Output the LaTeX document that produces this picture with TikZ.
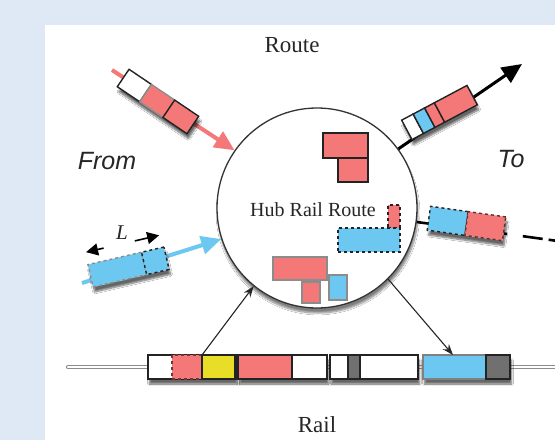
\documentclass[tikz,border=0pt]{standalone}
\usepackage{fontspec}
\setmainfont{Liberation Serif}
\newfontfamily\sansit{Liberation Sans}
\usetikzlibrary{arrows.meta,shadows,shadows.blur,calc}
\definecolor{bgblue}{RGB}{222,233,245}
\definecolor{tpink}{RGB}{245,120,120}
\definecolor{tblue}{RGB}{108,200,240}
\definecolor{tyellow}{RGB}{232,222,40}
\definecolor{tgray}{RGB}{112,112,112}
\definecolor{edge}{RGB}{35,35,35}
\tikzset{
  car/.style={draw=edge, line width=1.4pt, inner sep=0pt, outer sep=0pt},
  shad/.style={inner sep=0pt, outer sep=0pt, fill=white,
    blur shadow={shadow xshift=1.5pt, shadow yshift=-5pt, shadow blur steps=7, shadow opacity=60}},
  pinkarrow/.style={draw=tpink, line width=4pt, -{Triangle[length=20pt,width=18pt]}},
  bluearrow/.style={draw=tblue, line width=4pt, -{Triangle[length=20pt,width=18pt]}},
  blackarrow/.style={draw=black, line width=3pt, -{Triangle[length=20pt,width=18pt]}},
  thinarrow/.style={draw=black!85, line width=1.1pt, -{Stealth[length=11pt,width=8pt]}},
  larrow/.style={draw=black, line width=1.6pt, -{Triangle[length=12pt,width=12pt]}},
  txt/.style={inner sep=0pt, text=black!85}
}
\begin{document}
\begin{tikzpicture}[x=1pt,y=-1pt]
\useasboundingbox (0,0) rectangle (555,440);
\fill[bgblue] (0,0) rectangle (555,440);
\fill[white] (45,25) rectangle (555,440);

% hub
\node[circle, draw=black!80, line width=1.3pt, fill=white, minimum size=200, inner sep=0pt,
  blur shadow={shadow xshift=1pt, shadow yshift=-5pt, shadow blur steps=8, shadow opacity=50}] (hub) at (317,208) {};
\node[txt, font=\fontsize{20}{23}\selectfont] (hubtext) at (313,210) {Hub Rail Route};

% shapes inside hub
\node[car, fill=tpink, minimum width=45, minimum height=25] (h1) at (345.5,145.5) {};
\node[car, fill=tpink, minimum width=30, minimum height=24] (h2) at (353,170) {};
\node[car, dashed, fill=tpink, minimum width=12, minimum height=23] (h3) at (394,216.5) {};
\node[car, dashed, fill=tblue, minimum width=62, minimum height=24] (h4) at (369,240) {};
\node[car, fill=tpink, draw=black!45, line width=1.8pt, minimum width=54, minimum height=23] (h5) at (300,268.5) {};
\node[car, fill=tpink, draw=black!45, line width=1.8pt, minimum width=18, minimum height=21] (h6) at (311,292.5) {};
\node[car, fill=tblue, draw=black!45, line width=1.8pt, minimum width=18, minimum height=25] (h7) at (338,287.5) {};

% rail
\coordinate (railL) at (68,367);
\coordinate (railR) at (562,367);
\draw[line width=4.2pt, black!45, line cap=round] (railL) -- (railR);
\draw[line width=2.2pt, white, line cap=round] (railL) -- (railR);

\node[car, shad, fill=white, minimum width=88, minimum height=24] (car1) at (192,367) {};
\node[car, fill=tpink, dashed, draw=tpink!45!black, minimum width=30, minimum height=24] (c1p) at (187,367) {};
\node[car, fill=tyellow, minimum width=33, minimum height=24] (c1y) at (218.5,367) {};
\node[car, shad, fill=white, minimum width=89, minimum height=24] (car2) at (282.5,367) {};
\node[car, fill=tpink, minimum width=54, minimum height=24] (c2p) at (265,367) {};
\node[car, shad, fill=white, minimum width=88, minimum height=24] (car3) at (374,367) {};
\node[car, fill=tgray, minimum width=12, minimum height=24] (c3g) at (354,367) {};
\node[car, shad, fill=white, minimum width=87, minimum height=24] (car4) at (466.5,367) {};
\node[car, fill=tblue, draw=black!50, minimum width=63, minimum height=24] (c4b) at (454.5,367) {};
\node[car, fill=tgray, minimum width=24, minimum height=24] (c4g) at (498,367) {};

\draw[thinarrow] (c1p.north east) -- (hub.231);
\draw[thinarrow] (hub.-45) -- ($(car4.north west)+(30,0)$);

% incoming pink train
\coordinate (pstart) at (112,70);
\draw[pinkarrow] (pstart) -- (hub.145);
\begin{scope}[shift={(158,101.5)}, rotate=-34, transform shape]
\node[shad, minimum width=84, minimum height=21] (pshadow) at (0,0) {};
\node[car, fill=white, minimum width=27, minimum height=21, anchor=west] (pw) at (-42,0) {};
\node[car, fill=tpink, draw=black!45, minimum width=28, minimum height=21, anchor=west] (pm) at (-15,0) {};
\node[car, fill=tpink, minimum width=29, minimum height=21, anchor=west] (pf) at (13,0) {};
\end{scope}

% incoming blue train
\coordinate (bstart) at (82,283);
\draw[bluearrow] (bstart) -- (hub.198);
\begin{scope}[shift={(128.5,267)}, rotate=13, transform shape]
\node[shad, minimum width=78, minimum height=23] (bshadow) at (0,0) {};
\node[car, fill=tblue, draw=black!45, dashed, minimum width=55, minimum height=23, anchor=west] (lb) at (-39,0) {};
\node[car, fill=tblue, dashed, minimum width=23, minimum height=23, anchor=west] (ls) at (16,0) {};
\coordinate (la) at (-20,-24);
\coordinate (lat) at (-38,-24);
\coordinate (lb0) at (12,-24);
\coordinate (lbt) at (37,-24);
\draw[larrow] (la) -- (lat);
\draw[larrow] (lb0) -- (lbt);
\end{scope}
\node[txt, font=\itshape\fontsize{21}{24}\selectfont] (L) at (122,233) {L};

% outgoing train (top right)
\coordinate (totip) at (522,64);
\draw[blackarrow] (hub.36) -- (totip);
\begin{scope}[shift={(439.5,112.5)}, rotate=28, transform shape]
\node[shad, minimum width=74, minimum height=22] (tshadow) at (0,0) {};
\node[car, fill=white, minimum width=13, minimum height=22, anchor=west] (tw) at (-37,0) {};
\node[car, fill=tblue, minimum width=13, minimum height=22, anchor=west] (tb) at (-24,0) {};
\node[car, fill=tpink, minimum width=11, minimum height=22, anchor=west] (tps) at (-11,0) {};
\node[car, fill=tpink, minimum width=37, minimum height=22, anchor=west] (tpb) at (0,0) {};
\end{scope}

% outgoing dashed train (right)
\coordinate (r1) at (507,234);
\coordinate (r2) at (565,242);
\draw[line width=2.6pt] (hub.-8) -- (r1);
\draw[line width=2.6pt, dash pattern=on 0pt off 16pt on 20pt off 6pt on 20pt off 100pt] (r1) -- (r2);
\begin{scope}[shift={(466.5,223.5)}, rotate=-8, transform shape]
\node[shad, minimum width=76, minimum height=24] (rshadow) at (0,0) {};
\node[car, dashed, fill=tblue, minimum width=38, minimum height=24, anchor=west] (rb) at (-38,0) {};
\node[car, dashed, draw=tpink!40!black, fill=tpink, minimum width=38, minimum height=24, anchor=west] (rp) at (0,0) {};
\end{scope}

% labels
\node[txt, font=\fontsize{23}{26}\selectfont] (route) at (292,45) {Route};
\node[txt, font=\fontsize{23}{26}\selectfont] (rail) at (317,425) {Rail};
\node[txt, font=\sansit\itshape\fontsize{25}{29}\selectfont] (from) at (107,161) {From};
\node[txt, font=\sansit\itshape\fontsize{25}{29}\selectfont] (to) at (511,159) {To};
\end{tikzpicture}
\end{document}
